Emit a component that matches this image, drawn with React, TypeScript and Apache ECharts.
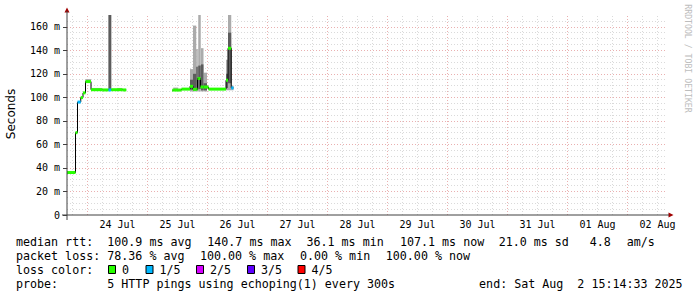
import React, { useEffect, useRef } from 'react';
import * as echarts from 'echarts';

// ---- axes (hours counted from 23 Jul 2025 00:00) ----
const X_MIN = 15.8;
const X_MAX = 255.8;
const Y_MAX = 170;
const dayLabels = ['24 Jul', '25 Jul', '26 Jul', '27 Jul', '28 Jul', '29 Jul', '30 Jul', '31 Jul', '01 Aug', '02 Aug'];
const dayLabelHours = [36, 60, 84, 108, 132, 156, 180, 204, 228, 252];
const yTickValues = [0, 20, 40, 60, 80, 100, 120, 140, 160];

// ---- measurement steps (hours, ms) ----
const stepStart = [15.8, 19.2, 20.0, 21.3, 22.2, 23.2, 25.4, 29.9, 32.4, 33.5, 35.8, 38.0,
  57.9, 58.3, 60.3, 61.6, 65.0, 66.2, 67.5, 68.0, 68.3, 69.2, 69.4, 70.4, 71.8, 72.4, 79.4, 80.2, 81.5];
const stepEnd = [19.2, 20.0, 21.3, 22.2, 23.2, 25.4, 29.9, 32.4, 33.5, 35.8, 38.0, 39.5,
  58.3, 60.3, 61.6, 65.0, 66.2, 67.5, 68.0, 68.3, 69.2, 69.4, 70.4, 71.8, 72.4, 79.4, 80.2, 81.5, 82.4];
const medianMs = [36.1, 70, 96, 99.8, 103.8, 113.4, 106.5, 106.3, 106.3, 106.5, 106.5, 106.3,
  106.0, 106.2, 106.2, 107.0, 109.4, 106.8, 106.8, 116, 116, 108.8, 108.8, 108.8, 108.8, 107.0, 114.5, 141.7, 108.0];
const lossLevel = [0, 0, 1, 0, 0, 0, 0, 0, 1, 0, 0, 0,
  0, 0, 0, 0, 0, 0, 0, 0, 0, 0, 0, 0, 0, 0, 0, 0, 1];
const smokeLow: (number | null)[] = [null, null, null, null, null, 112.5, 105.5, null, 106, null, 105.5, null,
  null, 105.5, null, null, 105, 105, 105, 105, 105, 105, 105, 105, null, null, 106, 106, 106];
const smokeHigh: (number | null)[] = [null, null, null, null, null, 115.5, 108, null, 170, null, 108, null,
  null, 108.3, null, null, 124, 161, 141, 141, 170, 170, 141.8, 121, null, null, 132, 170, 110];
const darkLow: (number | null)[] = [null, null, null, null, null, null, null, null, 106, null, null, null,
  null, null, null, null, 106.5, 106, 106, 106, 107, 107, 106, 106, null, null, 108, 112, null];
const darkHigh: (number | null)[] = [null, null, null, null, null, null, null, null, 170, null, null, null,
  null, null, null, null, 115, 120, 126, 126, 127, 127, 128, 112, null, null, 120, 155, null];

const lossColors = ['#26ff00', '#00b8ff', '#d400ff', '#5e00ff', '#ff0000'];

// ---- legend texts ----
const rttStats = ['100.9 ms avg', '140.7 ms max', '36.1 ms min', '107.1 ms now', '21.0 ms sd', '4.8', 'am/s'];
const lossStats = ['78.36 % avg', '100.00 % max', '0.00 % min', '100.00 % now'];
const lossColorLabels = ['0', '1/5', '2/5', '3/5', '4/5'];
const probeText = '5 HTTP pings using echoping(1) every 300s';
const endText = 'end: Sat Aug  2 15:14:33 2025';

// layout positions (pixels)
const rttX = [107.3, 207.3, 306.5, 400, 498.7, 589.8, 626.7];
const lossX = [107.3, 200, 300, 385.8];
const boxX = [108.5, 146, 196.5, 247.5, 298];

const MONO = '"DejaVu Sans Mono", monospace';
const SANS = '"DejaVu Sans", sans-serif';

function txt(text: string, x: number, y: number, opts: any = {}) {
  return {
    type: 'text', x, y, silent: true, rotation: opts.rotation || 0,
    style: {
      text, fill: opts.fill || '#000', fontFamily: opts.fontFamily || MONO, fontSize: opts.fontSize || 11.66,
      textAlign: opts.align || 'left', align: opts.align || 'left',
      textVerticalAlign: 'middle', verticalAlign: 'middle',
    },
  };
}

export default function App() {
  const ref = useRef<HTMLDivElement>(null);
  useEffect(() => {
    if (!ref.current) return;
    const chart = echarts.init(ref.current, null, { renderer: 'svg' });

    // grid lines
    const gridLines: any[] = [];
    for (let h = 18; h < X_MAX; h += 6) {
      const major = h % 24 === 0;
      gridLines.push({ xAxis: h, lineStyle: { color: major ? '#eab0b0' : '#dadada', type: [1, 2], width: 1 } });
    }
    for (let v = 5; v <= 165; v += 5) {
      const major = v % 20 === 0;
      gridLines.push({ yAxis: v, lineStyle: { color: major ? '#eab0b0' : '#dadada', type: [1, 2], width: 1 } });
    }

    const smokeLight: any[] = [];
    const smokeDark: any[] = [];
    const medians: any[] = [];
    const runs: number[][][] = [];
    for (let i = 0; i < stepStart.length; i++) {
      if (smokeLow[i] != null) smokeLight.push([stepStart[i], stepEnd[i], smokeLow[i], smokeHigh[i]]);
      if (darkLow[i] != null) smokeDark.push([stepStart[i], stepEnd[i], darkLow[i], darkHigh[i]]);
      medians.push([stepStart[i], stepEnd[i], medianMs[i], lossLevel[i]]);
      if (i === 0 || stepStart[i] !== stepEnd[i - 1]) runs.push([]);
      const run = runs[runs.length - 1];
      run.push([stepStart[i], medianMs[i]]);
      if (i === stepStart.length - 1 || stepStart[i + 1] !== stepEnd[i]) run.push([stepEnd[i], medianMs[i]]);
    }

    const rectItem = (color: string) => (params: any, api: any) => {
      const p1 = api.coord([api.value(0), api.value(3)]);
      const p2 = api.coord([api.value(1), api.value(2)]);
      return { type: 'rect', shape: { x: p1[0], y: p1[1], width: p2[0] - p1[0], height: p2[1] - p1[1] }, style: { fill: color } };
    };

    const series: any[] = [
      {
        type: 'line', data: [[X_MIN, 0]], symbol: 'none', lineStyle: { opacity: 0 }, z: 1, silent: true,
        markLine: { z: 1, symbol: 'none', silent: true, label: { show: false }, data: gridLines, animation: false },
      },
      { type: 'custom', data: smokeLight, renderItem: rectItem('#ababab'), z: 10, silent: true },
      { type: 'custom', data: smokeDark, renderItem: rectItem('#5c5c5c'), z: 11, silent: true },
      ...runs.map((r) => ({
        type: 'line', data: r, step: 'end', symbol: 'none', z: 12, silent: true,
        lineStyle: { color: '#000', width: 1 },
      })),
      {
        type: 'custom', data: medians, z: 13, silent: true,
        renderItem: (params: any, api: any) => {
          const p1 = api.coord([api.value(0), api.value(2)]);
          const p2 = api.coord([api.value(1), api.value(2)]);
          return { type: 'rect', shape: { x: p1[0], y: p1[1] - 1.5, width: p2[0] - p1[0], height: 3 }, style: { fill: lossColors[api.value(3)] } };
        },
      },
    ];

    const graphic: any[] = [];
    // axis extensions and arrows
    graphic.push({ type: 'line', shape: { x1: 67, y1: 220, x2: 67, y2: 11 }, style: { stroke: '#404040', lineWidth: 1 }, silent: true, z: 20 });
    graphic.push({ type: 'line', shape: { x1: 62, y1: 215, x2: 669, y2: 215 }, style: { stroke: '#404040', lineWidth: 1 }, silent: true, z: 20 });
    graphic.push({ type: 'polygon', shape: { points: [[64.5, 12.5], [69.5, 12.5], [67, 7.5]] }, style: { fill: '#a00000' }, silent: true });
    graphic.push({ type: 'polygon', shape: { points: [[668.5, 212.5], [668.5, 217.5], [673.5, 215]] }, style: { fill: '#a00000' }, silent: true });
    // titles
    graphic.push(txt('Seconds', 11, 114, { rotation: Math.PI / 2, align: 'center', fontFamily: SANS, fontSize: 12 }));
    graphic.push(txt('RRDTOOL / TOBI OETIKER', 688, 58.5, { rotation: -Math.PI / 2, align: 'center', fontSize: 8.2, fill: '#bdbdbd' }));
    // legend
    const y1 = 241.5, y2 = 255.5, y3 = 269.5, y4 = 283.5;
    graphic.push(txt('median rtt:', 16, y1));
    rttStats.forEach((s, i) => graphic.push(txt(s, rttX[i], y1)));
    graphic.push(txt('packet loss:', 16, y2));
    lossStats.forEach((s, i) => graphic.push(txt(s, lossX[i], y2)));
    graphic.push(txt('loss color:', 16, y3));
    lossColorLabels.forEach((s, i) => {
      graphic.push({ type: 'rect', shape: { x: boxX[i], y: y3 - 4, width: 7, height: 8 }, style: { fill: lossColors[i], stroke: '#000', lineWidth: 1 }, silent: true });
      graphic.push(txt(s, boxX[i] + 13.5, y3));
    });
    graphic.push(txt('probe:', 16, y4));
    graphic.push(txt(probeText, 107.3, y4));
    graphic.push(txt(endText, 479.1, y4));

    chart.setOption({
      animation: false,
      backgroundColor: '#ffffff',
      grid: { left: 67, top: 15, width: 600, height: 200 },
      xAxis: {
        type: 'value', min: X_MIN, max: X_MAX,
        splitLine: { show: false },
        axisLine: { show: false },
        axisTick: { show: false },
        axisLabel: {
          customValues: dayLabelHours,
          formatter: (v: number) => { const i = dayLabelHours.indexOf(v); return i >= 0 ? dayLabels[i] : ''; },
          fontFamily: MONO, fontSize: 10, color: '#000', margin: 4,
        },
      },
      yAxis: {
        type: 'value', min: 0, max: Y_MAX,
        splitLine: { show: false },
        axisLine: { show: false },
        axisTick: { show: true, customValues: yTickValues, length: 4, lineStyle: { color: '#404040' } },
        axisLabel: {
          customValues: yTickValues,
          formatter: (v: number) => (v === 0 ? '0' : `${v} m`),
          fontFamily: MONO, fontSize: 10, color: '#000', margin: 7,
        },
      },
      series,
      graphic,
    });
    return () => chart.dispose();
  }, []);
  return <div ref={ref} style={{ position: 'absolute', left: 0, top: 0, width: 697, height: 297, background: '#fff' }} />;
}
